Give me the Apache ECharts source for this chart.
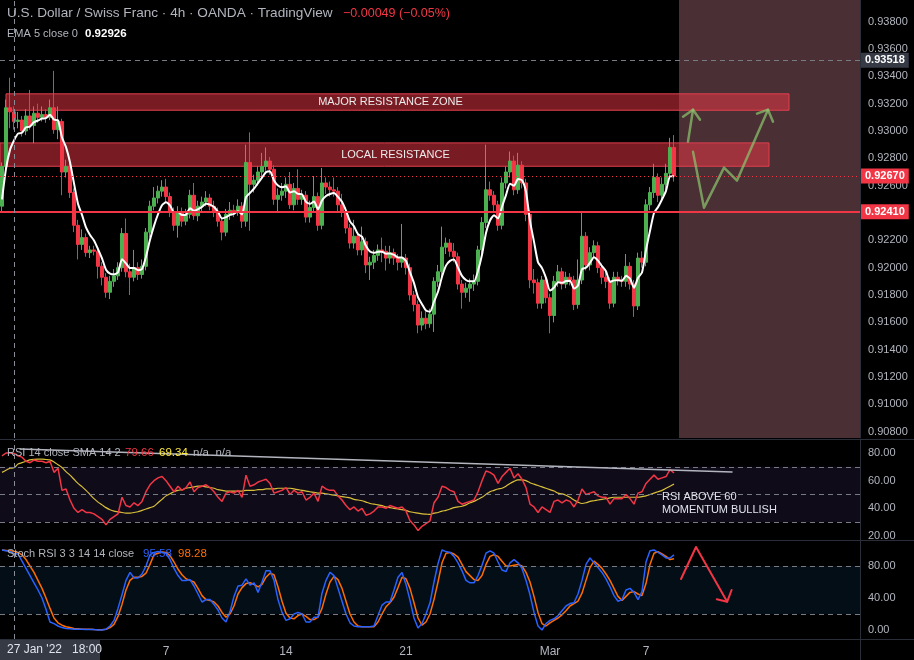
<!DOCTYPE html>
<html><head><meta charset="utf-8">
<script src="https://cdn.jsdelivr.net/npm/echarts@6/dist/echarts.min.js"></script>
<style>html,body{margin:0;padding:0;background:#000;}#c{width:914px;height:660px;}</style>
</head><body><div id="c"></div>
<script>
// ---------- data (USDCHF 4h) ----------
const opens = [0.9245,0.9274,0.9317,0.9314,0.9307,0.9308,0.9300,0.9311,0.9304,0.9313,0.9310,0.9312,0.9310,0.9317,0.9301,0.9307,0.9270,0.9274,0.9255,0.9231,0.9217,0.9222,0.9211,0.9213,0.9212,0.9201,0.9193,0.9182,0.9190,0.9194,0.9200,0.9225,0.9197,0.9193,0.9200,0.9195,0.9201,0.9226,0.9245,0.9251,0.9256,0.9259,0.9252,0.9241,0.9231,0.9241,0.9234,0.9239,0.9253,0.9238,0.9245,0.9248,0.9251,0.9245,0.9241,0.9234,0.9226,0.9239,0.9242,0.9241,0.9245,0.9234,0.9277,0.9261,0.9264,0.9270,0.9274,0.9278,0.9272,0.9250,0.9253,0.9256,0.9261,0.9246,0.9258,0.9250,0.9253,0.9237,0.9244,0.9252,0.9231,0.9262,0.9259,0.9257,0.9256,0.9246,0.9241,0.9229,0.9218,0.9223,0.9213,0.9219,0.9202,0.9204,0.9209,0.9213,0.9212,0.9207,0.9211,0.9207,0.9204,0.9207,0.9200,0.9180,0.9173,0.9158,0.9163,0.9159,0.9166,0.9190,0.9197,0.9215,0.9218,0.9212,0.9208,0.9188,0.9182,0.9185,0.9188,0.9190,0.9213,0.9233,0.9257,0.9253,0.9246,0.9231,0.9262,0.9270,0.9278,0.9257,0.9275,0.9262,0.9239,0.9191,0.9189,0.9174,0.9191,0.9178,0.9165,0.9190,0.9197,0.9188,0.9193,0.9191,0.9173,0.9191,0.9223,0.9202,0.9211,0.9216,0.9200,0.9193,0.9190,0.9174,0.9193,0.9191,0.9190,0.9201,0.9188,0.9172,0.9207,0.9204,0.9246,0.9255,0.9266,0.9253,0.9261,0.9269,0.9288];
const closes = [0.9274,0.9317,0.9314,0.9307,0.9308,0.9300,0.9311,0.9304,0.9313,0.9310,0.9312,0.9310,0.9317,0.9301,0.9307,0.9270,0.9274,0.9255,0.9231,0.9217,0.9222,0.9211,0.9213,0.9212,0.9201,0.9193,0.9182,0.9190,0.9194,0.9200,0.9225,0.9197,0.9193,0.9200,0.9195,0.9201,0.9226,0.9245,0.9251,0.9256,0.9259,0.9252,0.9241,0.9231,0.9241,0.9234,0.9239,0.9253,0.9238,0.9245,0.9248,0.9251,0.9245,0.9241,0.9234,0.9226,0.9239,0.9242,0.9241,0.9245,0.9234,0.9277,0.9261,0.9264,0.9270,0.9274,0.9278,0.9272,0.9250,0.9253,0.9256,0.9261,0.9246,0.9258,0.9250,0.9253,0.9237,0.9244,0.9252,0.9231,0.9262,0.9259,0.9257,0.9256,0.9246,0.9241,0.9229,0.9218,0.9223,0.9213,0.9219,0.9202,0.9204,0.9209,0.9213,0.9212,0.9207,0.9211,0.9207,0.9204,0.9207,0.9200,0.9180,0.9173,0.9158,0.9163,0.9159,0.9166,0.9190,0.9197,0.9215,0.9218,0.9212,0.9208,0.9188,0.9182,0.9185,0.9188,0.9190,0.9213,0.9233,0.9257,0.9253,0.9246,0.9231,0.9262,0.9270,0.9278,0.9257,0.9275,0.9262,0.9239,0.9191,0.9189,0.9174,0.9191,0.9178,0.9165,0.9190,0.9197,0.9188,0.9193,0.9191,0.9173,0.9191,0.9223,0.9202,0.9211,0.9216,0.9200,0.9193,0.9190,0.9174,0.9193,0.9191,0.9190,0.9201,0.9188,0.9172,0.9207,0.9204,0.9246,0.9255,0.9266,0.9253,0.9261,0.9269,0.9288,0.9267];
const highs = [0.9277,0.9323,0.9339,0.9318,0.9314,0.9311,0.9316,0.9330,0.9318,0.9320,0.9318,0.9316,0.9323,0.9344,0.9318,0.9309,0.9279,0.9277,0.9258,0.9235,0.9228,0.9225,0.9216,0.9216,0.9214,0.9204,0.9196,0.9194,0.9199,0.9204,0.9229,0.9236,0.9203,0.9213,0.9204,0.9206,0.9229,0.9249,0.9259,0.9260,0.9264,0.9265,0.9255,0.9244,0.9245,0.9244,0.9243,0.9257,0.9262,0.9249,0.9252,0.9256,0.9254,0.9249,0.9244,0.9237,0.9243,0.9248,0.9246,0.9250,0.9248,0.9290,0.9299,0.9268,0.9274,0.9284,0.9288,0.9281,0.9275,0.9258,0.9262,0.9266,0.9270,0.9262,0.9272,0.9257,0.9256,0.9249,0.9267,0.9255,0.9273,0.9266,0.9263,0.9266,0.9259,0.9254,0.9244,0.9232,0.9235,0.9226,0.9230,0.9222,0.9208,0.9213,0.9217,0.9222,0.9216,0.9216,0.9214,0.9210,0.9232,0.9210,0.9203,0.9183,0.9176,0.9168,0.9168,0.9170,0.9193,0.9202,0.9230,0.9222,0.9221,0.9218,0.9211,0.9191,0.9189,0.9192,0.9195,0.9216,0.9237,0.9290,0.9263,0.9256,0.9249,0.9266,0.9274,0.9285,0.9282,0.9284,0.9278,0.9265,0.9242,0.9199,0.9192,0.9194,0.9195,0.9181,0.9194,0.9202,0.9200,0.9197,0.9196,0.9194,0.9206,0.9240,0.9226,0.9215,0.9220,0.9219,0.9203,0.9198,0.9193,0.9197,0.9197,0.9194,0.9210,0.9204,0.9191,0.9211,0.9212,0.9250,0.9259,0.9276,0.9269,0.9266,0.9276,0.9295,0.9297];
const lows = [0.9240,0.9271,0.9302,0.9301,0.9302,0.9296,0.9297,0.9301,0.9291,0.9306,0.9307,0.9306,0.9308,0.9298,0.9294,0.9253,0.9266,0.9251,0.9226,0.9206,0.9213,0.9208,0.9207,0.9209,0.9192,0.9187,0.9178,0.9177,0.9186,0.9191,0.9197,0.9193,0.9180,0.9190,0.9191,0.9192,0.9198,0.9222,0.9242,0.9247,0.9252,0.9248,0.9237,0.9227,0.9222,0.9230,0.9231,0.9236,0.9235,0.9234,0.9241,0.9245,0.9242,0.9237,0.9230,0.9220,0.9223,0.9235,0.9237,0.9238,0.9229,0.9230,0.9227,0.9255,0.9260,0.9266,0.9271,0.9268,0.9246,0.9240,0.9249,0.9251,0.9243,0.9242,0.9246,0.9246,0.9233,0.9233,0.9240,0.9227,0.9228,0.9254,0.9252,0.9252,0.9241,0.9237,0.9225,0.9214,0.9214,0.9209,0.9209,0.9196,0.9191,0.9199,0.9205,0.9204,0.9198,0.9203,0.9202,0.9198,0.9200,0.9195,0.9176,0.9168,0.9152,0.9154,0.9155,0.9156,0.9153,0.9186,0.9193,0.9210,0.9208,0.9204,0.9184,0.9170,0.9178,0.9175,0.9183,0.9187,0.9209,0.9229,0.9249,0.9241,0.9227,0.9228,0.9258,0.9266,0.9253,0.9254,0.9258,0.9234,0.9185,0.9181,0.9170,0.9170,0.9174,0.9152,0.9160,0.9186,0.9184,0.9185,0.9187,0.9169,0.9170,0.9188,0.9198,0.9198,0.9207,0.9196,0.9188,0.9185,0.9170,0.9171,0.9187,0.9186,0.9186,0.9184,0.9164,0.9169,0.9200,0.9201,0.9242,0.9251,0.9248,0.9249,0.9257,0.9265,0.9263];
const emaSeed = 0.9238; // EMA(5) value just before the first visible bar
const rsi14 = [78,80,80,79.7,78,77,74,73,75,74,74,73,74,66,69,53,54,46,40,37,39,37,37,36,34,32,28,32,34,36,48,42,41,44,42,45,52,57,60,62,63,60,56,52,56,53,55,59,52,55,56,57,55,52,48,45,51,52,51,53,48,64,56,57,59,60,61,58,51,52,53,55,50,53,51,52,46,48,51,45,56,54,53,53,49,46,42,39,41,38,40,35,36,38,41,41,40,42,41,40,41,38,31,28,24,27,29,31,44,48,56,55,53,52,45,43,44,45,46,52,60,67,66,64,58,63,66,69,62,65,61,55,43,41,37,41,39,37,45,46,44,46,45,41,46,54,50,51,52,49,48,48,43,47,47,47,50,47,43,51,52,58,61,64,61,62,63,68,65.5];
const rsiSma = [66,67.5,69,69.3,72,73,74,75,75.4,75.6,75.6,75.3,75,73.5,71.5,69.5,66.5,64,61,58,55.7,53,50,47,44.5,42.5,40.5,39,38,37.5,37,36.5,36.5,37,37.5,38.5,39.5,40.5,41.5,44,46.5,49,50.5,52,53,53.5,54.5,55,55.5,56,56,55.5,55,54.5,53.5,53,52.5,52.5,52.5,52.5,52.5,53,53,53,53.5,53.5,54,54,54,54.5,54.5,54.5,54.5,54,53.5,53,52.5,52,51.5,51,51,50.5,50,49.5,49,48.5,48,47.5,46.5,46,45.5,44.5,43.5,43,42.5,42,41,40.5,40,39.5,39,38.5,37.5,37,36.5,36,35.8,35.6,36.5,37,38,38.5,39.5,40.5,41,41.5,42.5,44,45,46.5,48,50,52,53,54,54.5,56,58,59.5,60.5,60.5,60,58.5,57.5,56.5,55.5,54.5,53.5,52.5,51,50.5,49.5,48,46,44.5,43.5,44,45,45.5,46,46.5,47,47.5,48,48,48,48,48,48,48,48.5,49,50,51,52,53,54.5,56,57.5];
const stochK = [100,99,98,95.6,95,86,77,68,59,50,40,26,10,8,5,3,2,1.5,1,1,1,0.5,0.5,0.5,0,0,1,5,12,27,44,62,72,65,65,70,80,94,97,98,97,96,88,77,68,62,62,63,55,45,35,38,38,32,25,15,10,23,42,55,56,64,56,59,47,60,74,74,62,38,22,12,14,20,22,20,10,10,16,16,46,62,72,68,52,36,20,9,5,4,4,4,4,5,18,31,35,35,50,66,72,57,37,15,2.5,8,20,34,60,83,100,98,97,92,84,74,62,59,59,68,81,96,99,96,85,75,73,84,88,84,77,62,44,22,5,0,8,12,14,18,24,30,33,34,45,62,82,90,84,78,72,64,54,43,36,38,50,52,47,38,48,85,99,100,97,94,90,90,94];
const stochD = [100,99.5,99,98.3,97,94,88,80,72,62,52,40,27,15,9,6,4,3,2,1.5,1,1,0.8,0.5,0.3,0.2,1,3,7,17,32,50,62,66,66,67,71,82,94,96,97.5,97,93,85,76,69,64,62,60,52,43,38,37,35,30,22,16,20,30,45,53,58,59,57,54,57,66,71,69,54,36,21,15,14,18,20,17,13,13,16,27,45,60,67,63,52,36,20,10,5,4,4,4,4,10,20,29,34,41,53,66,64,52,34,15,6,10,20,38,60,84,96,97,95,91,82,73,68,63,62,68,82,92,94,92,86,80,80,81,82,80,72,60,42,22,8,5,9,12,15,19,24,30,33,36,46,62,78,86,82,77,70,62,52,42,37,42,47,48,45,43,58,82,96,98,95,92,88,89];
const priceTicks = [0.908,0.910,0.912,0.914,0.916,0.918,0.920,0.922,0.924,0.926,0.928,0.930,0.932,0.934,0.936,0.938];
const rsiTicks = [20,40,60,80];
const stochTicks = [0,40,80];
const xTickIndex = [41,71,101,137,161];
const xTickText = ['7','14','21','Mar','7'];
const crosshairBar = 3;
const majorZone = [0.93152, 0.93272];
const localZone = [0.92742, 0.92913];
const supportLevel = 0.92410;
const lastPrice = 0.92670;
const highLevel = 0.93518;

// ---------- derived ----------
const N = 215;
const cats = Array.from({length: N}, (_, i) => String(i));
const candles = closes.map((c, i) => [opens[i], c, lows[i], highs[i]]);
const ema5 = [];
{ let e = emaSeed; for (const c of closes) { e = e + (c - e) / 3; ema5.push(+e.toFixed(5)); } }

const FONT = 'Liberation Sans';
const GRAY = '#b2b5be';
const SEP = '#2a2e39';
const P_MIN = 0.907537, P_MAX = 0.939586;

const chart = echarts.init(document.getElementById('c'));

const green = 'rgba(140,195,110,0.72)';
const arrowSeries = (name, xi, yi, data, color, width) => ({
  name, type: 'line', xAxisIndex: xi, yAxisIndex: yi, data, symbol: 'none', silent: true,
  animation: false, z: 6, lineStyle: { color, width, cap: 'round', join: 'round' }
});
const yAxisBase = (gi, min, max, ticks, fmt) => ({
  type: 'value', gridIndex: gi, position: 'right', min, max,
  axisLine: { show: true, onZero: false, lineStyle: { color: SEP } }, axisTick: { show: false }, splitLine: { show: false },
  axisLabel: { customValues: ticks, color: GRAY, fontSize: 11, margin: 8, fontFamily: FONT, formatter: fmt }
});

const option = {
  backgroundColor: '#000',
  animation: false,
  textStyle: { fontFamily: FONT },
  grid: [
    { left: 0, right: 54, top: 0, height: 438 },
    { left: 0, right: 54, top: 440, height: 100 },
    { left: 0, right: 54, top: 541, height: 98 }
  ],
  xAxis: [
    { type: 'category', gridIndex: 0, data: cats, show: false, boundaryGap: true },
    { type: 'category', gridIndex: 1, data: cats, show: false, boundaryGap: true },
    { type: 'category', gridIndex: 2, data: cats, boundaryGap: true,
      axisLine: { show: true, onZero: false, lineStyle: { color: SEP } }, axisTick: { show: false },
      splitLine: { show: false },
      axisLabel: { color: GRAY, fontSize: 12, margin: 7, fontFamily: FONT,
        interval: (idx) => xTickIndex.includes(idx),
        formatter: (v, idx) => { const k = xTickIndex.indexOf(idx); return k >= 0 ? xTickText[k] : ''; } } },
    { type: 'value', gridIndex: 0, min: -0.5, max: 214.5, show: false },
    { type: 'value', gridIndex: 1, min: -0.5, max: 214.5, show: false },
    { type: 'value', gridIndex: 2, min: -0.5, max: 214.5, show: false }
  ],
  yAxis: [
    yAxisBase(0, P_MIN, P_MAX, priceTicks, v => v.toFixed(5)),
    yAxisBase(1, 17.1, 89.4, rsiTicks, v => v.toFixed(2)),
    yAxisBase(2, -11.25, 111.25, stochTicks, v => v.toFixed(2))
  ],
  series: [
    { name: 'shade', type: 'line', xAxisIndex: 3, yAxisIndex: 0, data: [], z: 1, silent: true,
      markArea: { silent: true, precision: 6, itemStyle: { color: '#4a2f34' },
        data: [[{ xAxis: 169.25, yAxis: P_MAX }, { xAxis: 214.5, yAxis: P_MIN }]] } },
    { name: 'zones', type: 'line', xAxisIndex: 3, yAxisIndex: 0, data: [], z: 2, silent: true,
      markArea: { silent: true, precision: 6,
        itemStyle: { color: 'rgba(242,54,69,0.5)', borderColor: '#e0404e', borderWidth: 1 },
        label: { show: true, position: 'inside', color: '#ececec', fontSize: 11, fontFamily: FONT },
        data: [
          [{ xAxis: 1.0, yAxis: majorZone[1], name: 'MAJOR RESISTANCE ZONE', label: { offset: [-7, 0] } }, { xAxis: 196.75, yAxis: majorZone[0] }],
          [{ xAxis: -0.5, yAxis: localZone[1], name: 'LOCAL RESISTANCE', label: { offset: [11, 0] } }, { xAxis: 191.75, yAxis: localZone[0] }]
        ] } },
    { name: 'USDCHF', type: 'candlestick', xAxisIndex: 0, yAxisIndex: 0, data: candles, z: 3,
      barWidth: 3,
      itemStyle: { color: '#4caf50', color0: '#f23645', borderColor: '#4caf50', borderColor0: '#f23645', borderWidth: 1 },
      markLine: { symbol: ['none','none'], silent: true, animation: false, precision: 6,
        data: [
          { yAxis: highLevel, lineStyle: { color: '#787b86', type: [5, 4], width: 1 },
            label: { show: true, position: 'end', formatter: highLevel.toFixed(5), backgroundColor: '#363a45', color: '#fff', fontSize: 11, fontWeight: 'bold', padding: [2, 4], distance: 1 } },
          { yAxis: lastPrice, lineStyle: { color: '#f23645', type: [1, 3], width: 1 },
            label: { show: true, position: 'end', formatter: lastPrice.toFixed(5), backgroundColor: '#f23645', color: '#fff', fontSize: 11, fontWeight: 'bold', padding: [2, 4], distance: 1 } },
          { yAxis: supportLevel, lineStyle: { color: '#f23645', type: 'solid', width: 2 },
            label: { show: true, position: 'end', formatter: supportLevel.toFixed(5), backgroundColor: '#f23645', color: '#fff', fontSize: 11, fontWeight: 'bold', padding: [2, 4], distance: 1 } },
          { xAxis: crosshairBar, lineStyle: { color: '#8a8d96', type: [5, 4], width: 1 }, label: { show: false } }
        ] } },
    { name: 'EMA 5', type: 'line', xAxisIndex: 0, yAxisIndex: 0, data: ema5, symbol: 'none', z: 4,
      smooth: 0.2, lineStyle: { color: '#ffffff', width: 2 } },
    arrowSeries('up1', 3, 0, [[171.5, 0.92922], [172.75, 0.93156]], green, 2.5),
    arrowSeries('up1h', 3, 0, [[170.25, 0.93105], [172.75, 0.93156], [174.5, 0.93083]], green, 2.5),
    arrowSeries('path2', 3, 0, [[172.75, 0.92849], [175.5, 0.92439], [180.5, 0.92732], [183.75, 0.92637], [191.5, 0.93156]], green, 2.5),
    arrowSeries('path2h', 3, 0, [[188.75, 0.93127], [191.5, 0.93156], [192.75, 0.93068]], green, 2.5),
    // RSI pane
    { name: 'RSI', type: 'line', xAxisIndex: 1, yAxisIndex: 1, data: rsi14, symbol: 'none', z: 4,
      lineStyle: { color: '#f23645', width: 1.5 },
      markArea: { silent: true, itemStyle: { color: 'rgba(126,87,194,0.13)' }, data: [[{ yAxis: 70 }, { yAxis: 30 }]] },
      markLine: { symbol: ['none','none'], silent: true, animation: false, label: { show: false },
        lineStyle: { color: '#787b86', type: [5, 4], width: 1 },
        data: [{ yAxis: 70 }, { yAxis: 50 }, { yAxis: 30 }, { xAxis: crosshairBar, lineStyle: { color: '#8a8d96' } }] } },
    { name: 'RSI SMA', type: 'line', xAxisIndex: 1, yAxisIndex: 1, data: rsiSma, symbol: 'none', z: 3,
      smooth: 0.3, lineStyle: { color: '#d9c03a', width: 1.2 } },
    arrowSeries('rsiTrend', 4, 1, [[4.5, 82.9], [182.5, 66.2]], '#b2b5be', 1.5),
    // Stoch pane
    { name: 'K', type: 'line', xAxisIndex: 2, yAxisIndex: 2, data: stochK, symbol: 'none', z: 4,
      lineStyle: { color: '#2962ff', width: 1.5 },
      markArea: { silent: true, itemStyle: { color: 'rgba(33,150,243,0.09)' }, data: [[{ yAxis: 80 }, { yAxis: 20 }]] },
      markLine: { symbol: ['none','none'], silent: true, animation: false, label: { show: false },
        lineStyle: { color: '#787b86', type: [5, 4], width: 1 },
        data: [{ yAxis: 80 }, { yAxis: 20 }, { xAxis: crosshairBar, lineStyle: { color: '#8a8d96' } }] } },
    { name: 'D', type: 'line', xAxisIndex: 2, yAxisIndex: 2, data: stochD, symbol: 'none', z: 3,
      lineStyle: { color: '#ff6d00', width: 1.5 } },
    arrowSeries('stochArrow', 5, 2, [[169.75, 63.75], [173.5, 103.75], [181.3, 35.4]], '#f23645', 2),
    arrowSeries('stochArrowH', 5, 2, [[178.7, 38.4], [181.3, 35.4], [182.4, 50]], '#f23645', 2)
  ],
  graphic: [
    { type: 'line', shape: { x1: 0, y1: 439.5, x2: 914, y2: 439.5 }, style: { stroke: SEP, lineWidth: 1 }, silent: true, z: 10 },
    { type: 'line', shape: { x1: 0, y1: 540.5, x2: 914, y2: 540.5 }, style: { stroke: SEP, lineWidth: 1 }, silent: true, z: 10 },
    { type: 'line', shape: { x1: 860.5, y1: 639, x2: 860.5, y2: 660 }, style: { stroke: SEP, lineWidth: 1 }, silent: true, z: 10 },
    { type: 'line', shape: { x1: 860, y1: 639.5, x2: 914, y2: 639.5 }, style: { stroke: SEP, lineWidth: 1 }, silent: true, z: 10 },
    { type: 'text', left: 7, top: 6, silent: true, z: 20,
      style: { text: 'U.S. Dollar / Swiss Franc · 4h · OANDA · TradingView', fill: GRAY, font: '13.6px ' + FONT } },
    { type: 'text', left: 343, top: 7, silent: true, z: 20,
      style: { text: '\u22120.00049 (\u22120.05%)', fill: '#f23645', font: '12.5px ' + FONT } },
    { type: 'text', left: 7, top: 28, silent: true, z: 20,
      style: { text: 'EMA 5 close 0', fill: GRAY, font: '11px ' + FONT } },
    { type: 'text', left: 85, top: 28, silent: true, z: 20,
      style: { text: '0.92926', fill: '#ffffff', font: 'bold 11.5px ' + FONT } },
    { type: 'text', left: 7, top: 447, silent: true, z: 20,
      style: { text: 'RSI 14 close SMA 14 2', fill: GRAY, font: '11px ' + FONT } },
    { type: 'text', left: 125, top: 447, silent: true, z: 20,
      style: { text: '79.66', fill: '#f23645', font: '11.5px ' + FONT } },
    { type: 'text', left: 159, top: 447, silent: true, z: 20,
      style: { text: '69.34', fill: '#ffeb3b', font: '11.5px ' + FONT } },
    { type: 'text', left: 193, top: 447, silent: true, z: 20,
      style: { text: 'n/a  n/a', fill: GRAY, font: '11.5px ' + FONT } },
    { type: 'text', left: 7, top: 548, silent: true, z: 20,
      style: { text: 'Stoch RSI 3 3 14 14 close', fill: GRAY, font: '11px ' + FONT } },
    { type: 'text', left: 143, top: 548, silent: true, z: 20,
      style: { text: '95.58', fill: '#2962ff', font: '11.5px ' + FONT } },
    { type: 'text', left: 178, top: 548, silent: true, z: 20,
      style: { text: '98.28', fill: '#ff6d00', font: '11.5px ' + FONT } },
    { type: 'text', left: 662, top: 491, silent: true, z: 20,
      style: { text: 'RSI ABOVE 60', fill: '#e0e3eb', font: '11px ' + FONT } },
    { type: 'text', left: 662, top: 504, silent: true, z: 20,
      style: { text: 'MOMENTUM BULLISH', fill: '#e0e3eb', font: '11px ' + FONT } },
    { type: 'rect', left: 0, top: 640, shape: { width: 100, height: 20 }, style: { fill: '#363a45' }, silent: true, z: 20 },
    { type: 'text', left: 7, top: 644, silent: true, z: 21,
      style: { text: "27 Jan '22   18:00", fill: '#e0e3eb', font: '12px ' + FONT } }
  ]
};
chart.setOption(option);
</script>
</body></html>
